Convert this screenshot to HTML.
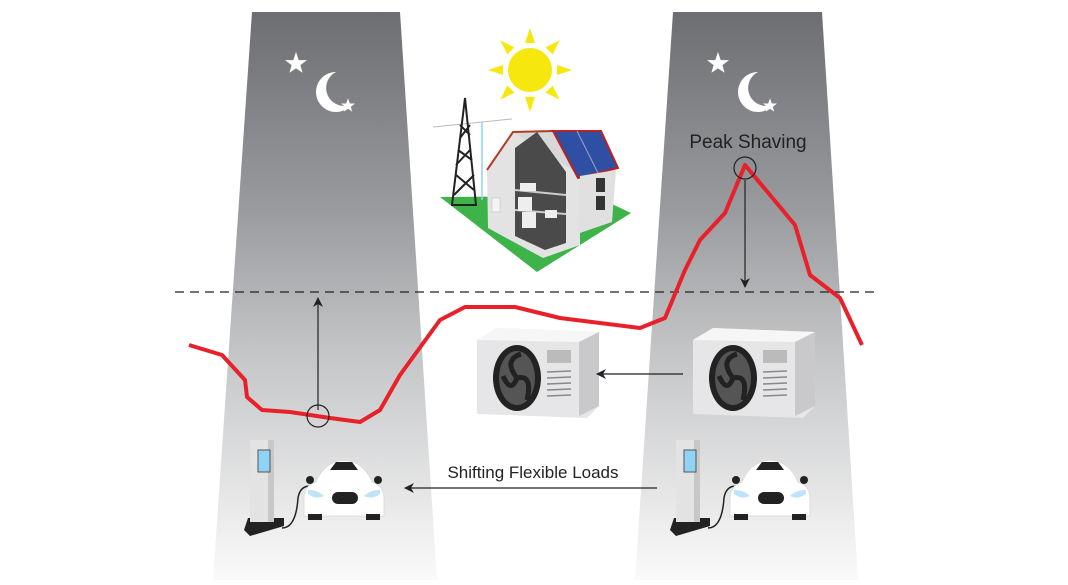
<!DOCTYPE html>
<html><head><style>
body{margin:0;background:#fff;width:1068px;height:580px;overflow:hidden;font-family:"Liberation Sans",sans-serif}
</style></head><body>
<svg width="1068" height="580" viewBox="0 0 1068 580" xmlns="http://www.w3.org/2000/svg">
<defs>
<linearGradient id="g" x1="0" y1="0" x2="0" y2="1">
<stop offset="0" stop-color="#6d6e72"/><stop offset="0.35" stop-color="#9a9b9e"/><stop offset="0.6" stop-color="#c4c5c7"/><stop offset="1" stop-color="#fafafa"/>
</linearGradient>
<marker id="ah" markerWidth="10" markerHeight="10" refX="9" refY="5" orient="auto" markerUnits="userSpaceOnUse"><path d="M0,0 L10,5 L0,10 L3,5 z" fill="#222"/></marker>
<g id="ac">
<path d="M0,12 L20,0 L122,4 L122,78 L110,90 L0,86 z" fill="#e6e6e8"/>
<path d="M0,12 L20,0 L122,4 L102,14 z" fill="#f6f6f6"/>
<path d="M102,14 L122,4 L122,78 L102,88 z" fill="#c9c9cc"/>
<ellipse cx="40" cy="50" rx="24" ry="33" fill="#222"/>
<ellipse cx="40" cy="50" rx="18" ry="27" fill="#555"/>
<path d="M40,50 q-14,-18 4,-24 M40,50 q16,-4 10,22 M40,50 q-6,16 -14,-2" stroke="#222" stroke-width="5" fill="none"/>
<rect x="70" y="22" width="24" height="13" fill="#bbb"/>
<g stroke="#888" stroke-width="1.5"><line x1="70" y1="44" x2="94" y2="43"/><line x1="70" y1="50" x2="94" y2="49"/><line x1="70" y1="56" x2="94" y2="55"/><line x1="70" y1="62" x2="94" y2="61"/><line x1="70" y1="68" x2="94" y2="67"/></g>
</g>
<g id="ev">
<path d="M0,90 L4,78 L40,78 L40,86 L6,96 z" fill="#222"/>
<rect x="6" y="0" width="22" height="82" fill="#e3e3e3"/>
<rect x="24" y="0" width="6" height="82" fill="#c8c8c8"/>
<rect x="14" y="10" width="12" height="22" fill="#8fd3f5" stroke="#555"/>
<path d="M38,88 q14,0 16,-30 q2,-12 12,-12" stroke="#222" stroke-width="1.5" fill="none"/>
<path d="M72,42 q8,-20 28,-22 q20,2 28,22 q12,4 12,16 l0,18 l-80,0 l0,-18 q0,-12 12,-16z" fill="#fff" stroke="#ddd"/>
<path d="M86,30 l6,-8 h16 l6,8z" fill="#222"/>
<rect x="64" y="74" width="14" height="6" fill="#222"/><rect x="122" y="74" width="14" height="6" fill="#222"/>
<rect x="88" y="52" width="26" height="12" rx="6" fill="#222"/>
<path d="M64,50 q10,0 16,6 q-8,4 -16,-2z M136,50 q-10,0 -16,6 q8,4 16,-2z" fill="#bfe3f7"/>
<circle cx="66" cy="40" r="4" fill="#222"/><circle cx="134" cy="40" r="4" fill="#222"/>
</g>
<g id="moon">
<path d="M0,-22 L5,-7 L20,-7 L8,2 L12,16 L0,8 L-12,16 L-8,2 L-20,-7 L-5,-7z" transform="scale(0.55)" fill="#fff"/>
<path d="M40,8 a20,20 0 1 0 16,32 a16,16 0 1 1 -16,-32z" fill="#fff"/>
<path d="M0,-22 L5,-7 L20,-7 L8,2 L12,16 L0,8 L-12,16 L-8,2 L-20,-7 L-5,-7z" transform="translate(52,42) scale(0.35)" fill="#fff"/>
</g>
</defs>
<polygon points="252,12 400,12 437,580 213,580" fill="url(#g)"/>
<polygon points="673,12 822,12 858,580 635,580" fill="url(#g)"/>
<use href="#moon" x="296" y="64"/>
<use href="#moon" x="718" y="64"/>
<!-- sun -->
<g transform="translate(530,70)" fill="#f6e80f">
<circle r="22"/>
<g><polygon points="-5,-27 0,-42 5,-27"/><polygon points="-5,27 0,42 5,27"/><polygon points="-27,-5 -42,0 -27,5"/><polygon points="27,-5 42,0 27,5"/>
<polygon points="-5,-27 0,-42 5,-27" transform="rotate(45)"/><polygon points="-5,-27 0,-42 5,-27" transform="rotate(135)"/><polygon points="-5,-27 0,-42 5,-27" transform="rotate(225)"/><polygon points="-5,-27 0,-42 5,-27" transform="rotate(315)"/></g>
</g>
<!-- house -->
<polygon points="440,197 537,272 631,213 595,196" fill="#3db34a"/>
<line x1="433" y1="127" x2="512" y2="119" stroke="#bbb"/>
<line x1="482" y1="122" x2="482" y2="200" stroke="#8fd3f5" stroke-width="1.5"/>
<path d="M465,98 L452,205 L476,205 Z" fill="none" stroke="#222" stroke-width="2"/>
<path d="M458,150 L472,160 M470,150 L456,165 M456,175 L474,190 M474,175 L454,195 M460,125 L470,135 M470,125 L460,138" stroke="#222" stroke-width="2"/>
<polygon points="487,170 513,132 553,131 580,175 580,245 543,258 488,228" fill="#e3e3e3"/>
<polygon points="513,132 553,131 580,175" fill="#d8d8d8"/>
<path d="M487,170 L513,132 L553,131" fill="none" stroke="#b23a2a" stroke-width="2"/>
<polygon points="515,148 537,132 566,172 566,243 545,250 515,236" fill="#4a4a4a"/>
<line x1="515" y1="190" x2="566" y2="195" stroke="#ccc" stroke-width="2"/>
<line x1="515" y1="210" x2="566" y2="214" stroke="#ccc" stroke-width="2"/>
<polygon points="553,131 601,131 618,168 578,178" fill="#2e4fa3" stroke="#b22" stroke-width="2"/>
<line x1="577" y1="131" x2="598" y2="173" stroke="#9ab" stroke-width="1"/>
<polygon points="580,176 616,170 612,222 577,234" fill="#e0e0e0"/>
<rect x="596" y="178" width="9" height="14" fill="#333"/><rect x="596" y="196" width="9" height="14" fill="#333"/>
<rect x="520" y="183" width="16" height="8" fill="#eee"/><rect x="518" y="197" width="14" height="14" fill="#eee"/>
<rect x="545" y="210" width="12" height="8" fill="#eee"/><rect x="522" y="212" width="14" height="16" fill="#eee"/>
<rect x="492" y="198" width="8" height="14" fill="#f4f4f4" stroke="#bbb" stroke-width="0.5"/>
<!-- ACs -->
<use href="#ac" x="477" y="328"/>
<use href="#ac" x="693" y="328"/>
<!-- EVs -->
<use href="#ev" x="244" y="440"/>
<use href="#ev" x="670" y="440"/>
<!-- dashed -->
<line x1="175" y1="292" x2="880" y2="292" stroke="#222" stroke-width="1.2" stroke-dasharray="9,6"/>
<!-- red curve -->
<polyline points="189,345 222,355 245,380 247,397 262,410 290,412 330,418 360,422 380,410 400,375 440,320 465,307 515,307 560,318 640,328 665,318 685,270 700,240 725,213 745,165 770,195 795,225 810,275 840,298 862,345" fill="none" stroke="#e8202a" stroke-width="4" stroke-linejoin="round"/>
<!-- arrows -->
<line x1="318" y1="410" x2="318" y2="298" stroke="#222" stroke-width="1.2" marker-end="url(#ah)"/>
<circle cx="318" cy="416" r="11" fill="none" stroke="#222" stroke-width="1.2"/>
<line x1="745" y1="180" x2="745" y2="287" stroke="#222" stroke-width="1.2" marker-end="url(#ah)"/>
<circle cx="745" cy="168" r="11" fill="none" stroke="#222" stroke-width="1.2"/>
<line x1="683" y1="374" x2="597" y2="374" stroke="#222" stroke-width="1.2" marker-end="url(#ah)"/>
<line x1="657" y1="488" x2="405" y2="488" stroke="#222" stroke-width="1.2" marker-end="url(#ah)"/>
<text x="748" y="148" font-size="19" text-anchor="middle" fill="#222">Peak Shaving</text>
<text x="533" y="478" font-size="17" text-anchor="middle" fill="#222">Shifting Flexible Loads</text>
</svg>
</body></html>
